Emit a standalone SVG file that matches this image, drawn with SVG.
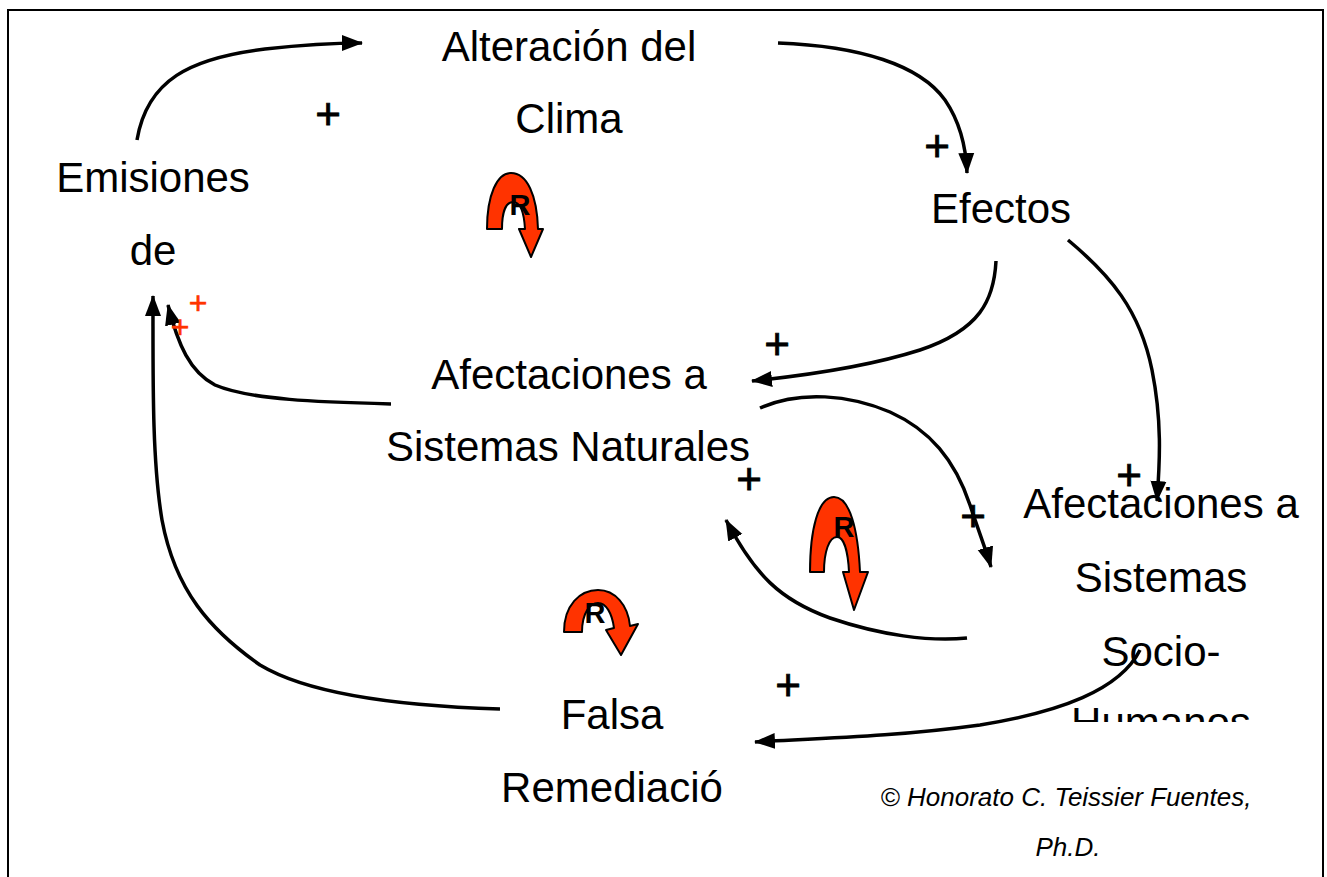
<svg xmlns="http://www.w3.org/2000/svg" width="1327" height="877" viewBox="0 0 1327 877">
<style>
.lbl{font-family:"Liberation Sans",Arial,sans-serif;font-size:42px;fill:#000;text-anchor:middle}
.pl{font-family:"Liberation Sans",Arial,sans-serif;font-size:44px;fill:#000;stroke:#000;stroke-width:0.8;text-anchor:middle}
.rpl{font-family:"Liberation Sans",Arial,sans-serif;font-size:32px;fill:#FF3300;stroke:#FF3300;stroke-width:0.6;text-anchor:middle}
.cp{font-family:"Liberation Sans",Arial,sans-serif;font-size:26px;font-style:italic;fill:#000;text-anchor:middle}
.con{fill:none;stroke:#000;stroke-width:3.5;marker-end:url(#ah)}
.loop{fill:#FF3300;stroke:#000;stroke-width:2;stroke-linejoin:round}
.rl{font-family:"Liberation Sans",Arial,sans-serif;font-size:29px;font-weight:bold;fill:#000;text-anchor:middle}
</style>
<defs>
<marker id="ah" markerUnits="userSpaceOnUse" markerWidth="22" markerHeight="18" viewBox="0 0 22 18" refX="20" refY="9" orient="auto">
<path d="M0,1 L21,9 L0,17 Z" fill="#000"/>
</marker>
<clipPath id="clipH"><rect x="1000" y="600" width="320" height="122"/></clipPath>
</defs>
<rect x="0" y="0" width="1327" height="877" fill="#fff"/>
<rect x="8" y="10" width="1315" height="900" fill="none" stroke="#000" stroke-width="2"/>

<g id="connectors">
<path class="con" d="M137,140 C147,80 190,58 265,49 C310,44 340,43 362,43"/>
<path class="con" d="M778,43 C860,46 920,65 945,100 C960,122 966,145 967,173"/>
<path class="con" d="M996,261 C994,300 980,330 920,350 C870,366 810,375 752,381"/>
<path class="con" d="M1068,240 C1110,275 1140,310 1152,370 C1162,420 1160,460 1157,501"/>
<path class="con" d="M391,404 C320,402 250,400 215,385 C190,372 178,345 168,305"/>
<path class="con" d="M500,709 C400,706 310,695 260,665 C210,630 175,590 162,520 C152,460 153,380 153,296"/>
<path class="con" d="M760,408 C800,390 850,395 890,412 C930,430 955,460 970,505 C980,535 986,550 991,567"/>
<path class="con" d="M967,638 C930,642 880,635 830,618 C780,600 755,575 726,520"/>
<path class="con" d="M1140,650 C1120,690 1060,712 980,725 C900,736 830,738 755,742"/>
</g>

<g id="node-alteracion">
<text class="lbl" x="569" y="61">Alteración del</text>
<text class="lbl" x="569" y="133">Clima</text>
</g>
<g id="node-emisiones">
<text class="lbl" x="153" y="192">Emisiones</text>
<text class="lbl" x="153" y="265">de</text>
</g>
<g id="node-efectos">
<text class="lbl" x="1001" y="223">Efectos</text>
</g>
<g id="node-naturales">
<text class="lbl" x="569" y="389">Afectaciones a</text>
<text class="lbl" x="568" y="461">Sistemas Naturales</text>
</g>
<g id="node-sociohumanos">
<text class="lbl" x="1161" y="518">Afectaciones a</text>
<text class="lbl" x="1161" y="592">Sistemas</text>
<text class="lbl" x="1161" y="666">Socio-</text>
<text class="lbl" x="1161" y="737" clip-path="url(#clipH)">Humanos</text>
</g>
<g id="node-falsa">
<text class="lbl" x="612" y="729">Falsa</text>
<text class="lbl" x="612" y="802">Remediació</text>
</g>

<g id="polarity">
<text class="pl" x="328" y="129">+</text>
<text class="pl" x="937" y="161">+</text>
<text class="pl" x="777" y="359">+</text>
<text class="pl" x="749" y="494">+</text>
<text class="pl" x="973" y="531">+</text>
<text class="pl" x="1129" y="490">+</text>
<text class="pl" x="788" y="700">+</text>
<text class="rpl" x="198" y="314">+</text>
<text class="rpl" x="180" y="338">+</text>
</g>

<g id="loop-r1">
<path class="loop" d="M487,229 C487,195 497,173 511,173 C527,173 537,195 538,229 L543,229 L531,257 L519,229 L525,229 C524,212 520,202 513,202 C506,202 502,212 502,229 Z"/>
<text class="rl" x="520" y="215">R</text>
</g>
<g id="loop-r2">
<path class="loop" d="M810,572 C810,530 818,497 834,497 C850,497 858,530 860,572 L868,572 L854,610 L843,572 L849,572 C848,552 844,537 837,537 C829,537 824,552 824,572 Z"/>
<text class="rl" x="844" y="537">R</text>
</g>
<g id="loop-r3">
<path class="loop" d="M564,632 C564,605 580,590 598,590 C615,590 628,605 630,626 L638,624 L621,655 L606,630 L614,628 C612,613 606,603 598,603 C590,603 582,613 582,632 Z"/>
<text class="rl" x="595" y="623">R</text>
</g>

<g id="copyright">
<text class="cp" x="1066" y="806">© Honorato C. Teissier Fuentes,</text>
<text class="cp" x="1068" y="856">Ph.D.</text>
</g>
</svg>
